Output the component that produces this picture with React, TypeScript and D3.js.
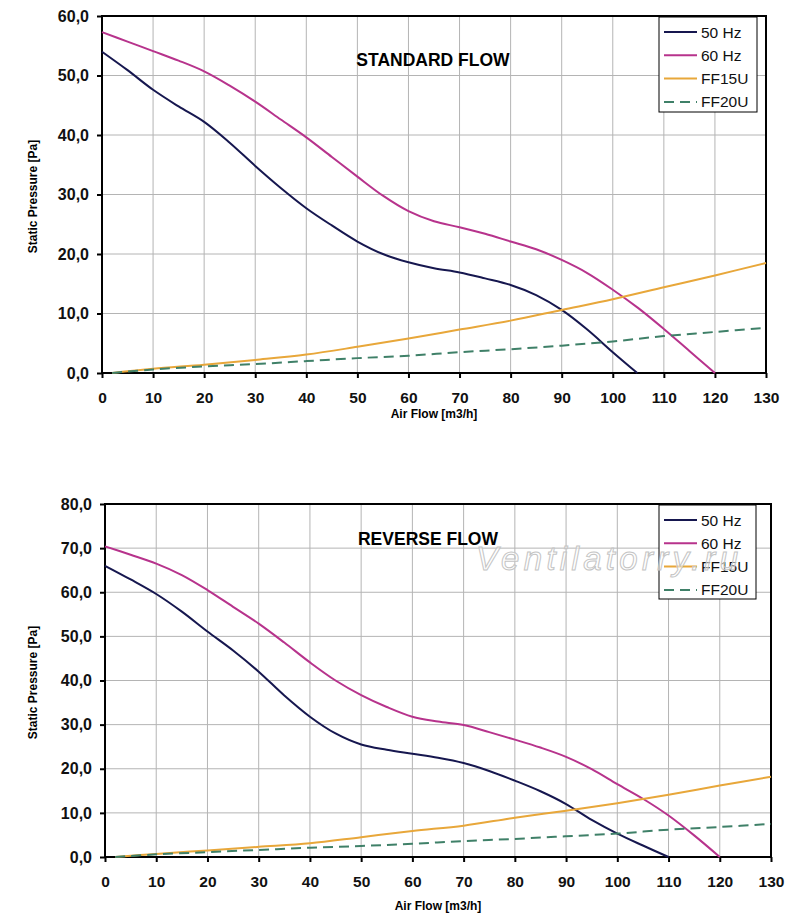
import React, { useEffect, useRef } from 'react';
import * as d3 from 'd3';

// air flow axis ticks [m3/h]
const flowTicks = [0, 10, 20, 30, 40, 50, 60, 70, 80, 90, 100, 110, 120, 130];
const stdPressureTicks = [0, 10, 20, 30, 40, 50, 60];
const revPressureTicks = [0, 10, 20, 30, 40, 50, 60, 70, 80];

// STANDARD FLOW
const std50Flow = [0, 5, 10, 15, 20, 25, 30, 35, 40, 45, 50, 55, 60, 65, 70, 75, 80, 85, 90, 95, 100, 104.8];
const std50Pa = [54.0, 50.9, 47.6, 44.8, 42.2, 38.7, 34.8, 31.1, 27.7, 24.8, 22.1, 20.0, 18.6, 17.6, 16.9, 15.9, 14.8, 13.1, 10.6, 7.3, 3.5, 0];
const std60Flow = [0, 5, 10, 15, 20, 25, 30, 35, 40, 45, 50, 55, 60, 65, 70, 75, 80, 85, 90, 95, 100, 105, 110, 115, 120];
const std60Pa = [57.3, 55.7, 54.1, 52.5, 50.7, 48.3, 45.6, 42.6, 39.6, 36.3, 33.0, 29.8, 27.2, 25.5, 24.5, 23.4, 22.1, 20.8, 19.0, 16.8, 14.0, 10.9, 7.4, 3.7, 0];

// REVERSE FLOW
const rev50Flow = [0, 5, 10, 15, 20, 25, 30, 35, 40, 45, 50, 55, 60, 65, 70, 75, 80, 85, 90, 95, 100, 105, 110];
const rev50Pa = [66.0, 62.9, 59.6, 55.6, 51.1, 46.8, 42.0, 36.6, 31.8, 28.0, 25.5, 24.3, 23.4, 22.5, 21.3, 19.5, 17.3, 14.9, 12.0, 8.4, 5.3, 2.6, 0];
const rev60Flow = [0, 5, 10, 15, 20, 25, 30, 35, 40, 45, 50, 55, 60, 65, 70, 75, 80, 85, 90, 95, 100, 105, 110, 115, 120];
const rev60Pa = [70.4, 68.5, 66.5, 63.9, 60.5, 56.7, 52.9, 48.6, 44.1, 40.0, 36.7, 34.0, 31.8, 30.7, 29.9, 28.3, 26.6, 24.8, 22.7, 19.9, 16.5, 13.2, 9.4, 4.9, 0];

// system curves (shared flow points)
const ductFlow = [2, 10, 20, 30, 40, 50, 60, 70, 80, 90, 100, 110, 120, 130];
const stdFF15 = [0, 0.7, 1.4, 2.2, 3.1, 4.4, 5.8, 7.3, 8.8, 10.6, 12.4, 14.4, 16.4, 18.5];
const stdFF20 = [0, 0.6, 1.1, 1.5, 2.0, 2.5, 2.9, 3.5, 4.0, 4.6, 5.3, 6.2, 6.9, 7.6];
const revFF15 = [0, 0.7, 1.5, 2.3, 3.1, 4.5, 5.9, 7.1, 8.9, 10.5, 12.2, 14.1, 16.2, 18.2];
const revFF20 = [0, 0.6, 1.1, 1.6, 2.1, 2.5, 3.0, 3.6, 4.1, 4.7, 5.3, 6.2, 6.8, 7.5];

const seriesNames = ['50 Hz', '60 Hz', 'FF15U', 'FF20U'];
const seriesColors = ['#16174f', '#b7338c', '#e8a73a', '#3f8068'];

const FONT = '"Liberation Sans", Arial, sans-serif';

interface ChartCfg {
  title: string;
  titleX: number;
  titleY: number;
  left: number;
  right: number;
  top: number;
  bottom: number;
  xTitleDy: number;
  yTicks: number[];
  legendX: number;
  legendY: number;
  legendW: number;
  legendH: number;
  series: { flow: number[]; pa: number[] }[];
}

const comma = (v: number) => d3.format('.1f')(v).replace('.', ',');

function drawChart(root: d3.Selection<SVGGElement, unknown, null, undefined>, cfg: ChartCfg) {
  const x = d3.scaleLinear().domain([0, 130]).range([cfg.left, cfg.right]);
  const y = d3
    .scaleLinear()
    .domain([0, d3.max(cfg.yTicks)!])
    .range([cfg.bottom, cfg.top]);

  const g = root.append('g');

  // grid
  g.append('g')
    .selectAll('line')
    .data(flowTicks.slice(1, -1))
    .enter()
    .append('line')
    .attr('x1', d => x(d))
    .attr('x2', d => x(d))
    .attr('y1', cfg.top)
    .attr('y2', cfg.bottom)
    .attr('stroke', '#b4b4b4')
    .attr('stroke-width', 1);
  g.append('g')
    .selectAll('line')
    .data(cfg.yTicks.slice(1, -1))
    .enter()
    .append('line')
    .attr('x1', cfg.left)
    .attr('x2', cfg.right)
    .attr('y1', d => y(d))
    .attr('y2', d => y(d))
    .attr('stroke', '#b4b4b4')
    .attr('stroke-width', 1);

  // frame
  g.append('rect')
    .attr('x', cfg.left)
    .attr('y', cfg.top)
    .attr('width', cfg.right - cfg.left)
    .attr('height', cfg.bottom - cfg.top)
    .attr('fill', 'none')
    .attr('stroke', '#000')
    .attr('stroke-width', 2);

  // y axis
  const yAxis = g
    .append('g')
    .attr('transform', `translate(${cfg.left},0)`)
    .call(
      d3
        .axisLeft(y)
        .tickValues(cfg.yTicks)
        .tickSize(5)
        .tickPadding(8)
        .tickFormat(d => comma(d as number))
    );
  yAxis.select('.domain').remove();
  yAxis.selectAll('line').attr('stroke', '#000').attr('stroke-width', 2);
  yAxis
    .selectAll('text')
    .attr('font-family', FONT)
    .attr('font-size', 16)
    .attr('font-weight', 'bold')
    .attr('fill', '#111');

  // x axis
  const xAxis = g
    .append('g')
    .attr('transform', `translate(0,${cfg.bottom})`)
    .call(d3.axisBottom(x).tickValues(flowTicks).tickSize(5).tickPadding(14).tickFormat(d3.format('d')));
  xAxis.select('.domain').remove();
  xAxis.selectAll('line').attr('stroke', '#000').attr('stroke-width', 2);
  xAxis
    .selectAll('text')
    .attr('font-family', FONT)
    .attr('font-size', 15.5)
    .attr('font-weight', 'bold')
    .attr('fill', '#111');

  // axis titles
  g.append('text')
    .attr('x', (cfg.left + cfg.right) / 2)
    .attr('y', cfg.bottom + cfg.xTitleDy)
    .attr('text-anchor', 'middle')
    .attr('font-family', FONT)
    .attr('font-size', 12)
    .attr('font-weight', 'bold')
    .text('Air Flow [m3/h]');
  g.append('text')
    .attr('transform', `translate(37,${(cfg.top + cfg.bottom) / 2 + 2}) rotate(-90)`)
    .attr('text-anchor', 'middle')
    .attr('font-family', FONT)
    .attr('font-size', 12)
    .attr('font-weight', 'bold')
    .text('Static Pressure [Pa]');

  // chart title
  g.append('text')
    .attr('x', cfg.titleX)
    .attr('y', cfg.titleY)
    .attr('text-anchor', 'middle')
    .attr('font-family', FONT)
    .attr('font-size', 17.5)
    .attr('font-weight', 'bold')
    .text(cfg.title);

  // curves
  const line = d3
    .line<[number, number]>()
    .x(d => x(d[0]))
    .y(d => y(d[1]))
    .curve(d3.curveCatmullRom.alpha(0.5));

  cfg.series.forEach((s, i) => {
    const pts = s.flow.map((f, k) => [f, s.pa[k]] as [number, number]);
    g.append('path')
      .attr('d', line(pts) || '')
      .attr('fill', 'none')
      .attr('stroke', seriesColors[i])
      .attr('stroke-width', 2)
      .attr('stroke-dasharray', i === 3 ? '10,6' : null);
  });

  // legend
  const legend = g.append('g').attr('transform', `translate(${cfg.legendX},${cfg.legendY})`);
  legend
    .append('rect')
    .attr('width', cfg.legendW)
    .attr('height', cfg.legendH)
    .attr('fill', '#fff')
    .attr('stroke', '#000')
    .attr('stroke-width', 1);
  seriesNames.forEach((name, i) => {
    const base = 20.5 + i * 23.3;
    legend
      .append('line')
      .attr('x1', 5)
      .attr('x2', 38)
      .attr('y1', base - 5.5)
      .attr('y2', base - 5.5)
      .attr('stroke', seriesColors[i])
      .attr('stroke-width', 2)
      .attr('stroke-dasharray', i === 3 ? '10,6' : null);
    legend
      .append('text')
      .attr('x', 42)
      .attr('y', base)
      .attr('font-family', FONT)
      .attr('font-size', 15.5)
      .attr('fill', '#111')
      .text(name);
  });
}

const App: React.FC = () => {
  const gRef = useRef<SVGGElement>(null);

  useEffect(() => {
    const root = d3.select(gRef.current!);
    root.selectAll('*').remove();

    drawChart(root, {
      title: 'STANDARD FLOW',
      titleX: 433,
      titleY: 66,
      left: 102,
      right: 766,
      top: 16,
      bottom: 373,
      xTitleDy: 45,
      yTicks: stdPressureTicks,
      legendX: 659,
      legendY: 17,
      legendW: 98,
      legendH: 95,
      series: [
        { flow: std50Flow, pa: std50Pa },
        { flow: std60Flow, pa: std60Pa },
        { flow: ductFlow, pa: stdFF15 },
        { flow: ductFlow, pa: stdFF20 },
      ],
    });

    drawChart(root, {
      title: 'REVERSE FLOW',
      titleX: 428,
      titleY: 545,
      left: 105,
      right: 771,
      top: 504,
      bottom: 857,
      xTitleDy: 53,
      yTicks: revPressureTicks,
      legendX: 659,
      legendY: 505,
      legendW: 97,
      legendH: 94,
      series: [
        { flow: rev50Flow, pa: rev50Pa },
        { flow: rev60Flow, pa: rev60Pa },
        { flow: ductFlow, pa: revFF15 },
        { flow: ductFlow, pa: revFF20 },
      ],
    });

    // watermark
    root
      .append('text')
      .attr('x', 476)
      .attr('y', 570)
      .attr('font-family', FONT)
      .attr('font-size', 33)
      .attr('font-style', 'italic')
      .attr('textLength', 262)
      .attr('lengthAdjust', 'spacing')
      .attr('fill', '#ffffff')
      .attr('fill-opacity', 0.5)
      .attr('stroke', '#c4c4c4')
      .attr('stroke-width', 1)
      .text('Ventilatorry.ru');
  }, []);

  return (
    <svg width={800} height={921} style={{ position: 'absolute', left: 0, top: 0, background: '#fff' }}>
      <g ref={gRef} />
    </svg>
  );
};

export default App;
